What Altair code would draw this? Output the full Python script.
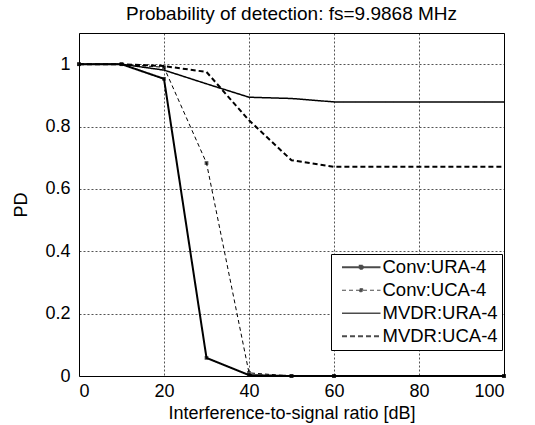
import altair as alt
import pandas as pd

isr_db = [0, 10, 20, 30, 40, 50, 60, 100]
conv_ura = [1.0, 1.0, 0.953, 0.058, 0.003, 0.0, 0.0, 0.0]
conv_uca = [1.0, 1.0, 0.99, 0.683, 0.01, 0.0, 0.0, 0.0]
mvdr_ura = [1.0, 1.0, 0.981, 0.937, 0.894, 0.89, 0.879, 0.879]
mvdr_uca = [1.0, 1.0, 0.994, 0.975, 0.82, 0.692, 0.671, 0.671]
series_names = ["Conv:URA-4", "Conv:UCA-4", "MVDR:URA-4", "MVDR:UCA-4"]
x_ticks = [0, 20, 40, 60, 80, 100]
y_ticks = [0, 0.2, 0.4, 0.6, 0.8, 1.0]

rows = []
for name, vals in zip(series_names, [conv_ura, conv_uca, mvdr_ura, mvdr_uca]):
    for x, y in zip(isr_db, vals):
        rows.append({"series": name, "isr": x, "pd": y})
df = pd.DataFrame(rows)

FONT = "Liberation Sans"
dash_scale = alt.Scale(type="ordinal", domain=series_names,
                       range=[[1, 0], [4, 3], [1, 0], [5, 3]])
width_scale = alt.Scale(type="ordinal", domain=series_names, range=[2, 1, 1.5, 2])
path_marker = "M-3.85,0H3.85M-0.3,-0.3H0.3V0.3H-0.3Z"
path_plain = "M-3.85,0H3.85"
shape_scale = alt.Scale(domain=series_names,
                        range=[path_marker, path_marker, path_plain, path_plain])
black_scale = alt.Scale(domain=series_names, range=["black"] * 4)

legend = alt.Legend(
    title=None, orient="none", legendX=252, legendY=221,
    strokeColor="black", fillColor="white", padding=4,
    labelFont=FONT, labelFontSize=18.5, labelColor="black",
    labelOffset=12, symbolOffset=17, rowPadding=4, symbolSize=100,
    symbolStrokeColor="black", symbolFillColor="black",
)

x_enc = alt.X("isr:Q", scale=alt.Scale(domain=[0, 100], nice=False),
              axis=alt.Axis(values=x_ticks, title="Interference-to-signal ratio [dB]",
                            labelPadding=6, titlePadding=4))
y_enc = alt.Y("pd:Q", scale=alt.Scale(domain=[0, 1.1], nice=False),
              axis=alt.Axis(values=y_ticks, format="~g", title="PD",
                            labelPadding=9, titlePadding=14))

lines = alt.Chart(df).mark_line(color="black").encode(
    x=x_enc, y=y_enc,
    strokeDash=alt.StrokeDash("series:N", scale=dash_scale, legend=legend),
    strokeWidth=alt.StrokeWidth("series:N", scale=width_scale, legend=legend),
    detail="series:N",
)

markers = alt.Chart(df).mark_point(shape="square", filled=True, color="black", size=14).encode(
    x=x_enc, y=y_enc,
).transform_filter(alt.FieldOneOfPredicate(field="series", oneOf=["Conv:URA-4", "Conv:UCA-4"]))

legend_layer = alt.Chart(df).mark_point(filled=True).encode(
    x=x_enc, y=y_enc,
    shape=alt.Shape("series:N", scale=shape_scale, legend=legend),
    strokeDash=alt.StrokeDash("series:N", scale=dash_scale, legend=legend),
    strokeWidth=alt.StrokeWidth("series:N", scale=width_scale, legend=legend),
    stroke=alt.Stroke("series:N", scale=black_scale, legend=legend),
    fill=alt.Fill("series:N", scale=black_scale, legend=legend),
).transform_filter("false")

chart = alt.layer(lines, markers, legend_layer).properties(
    width=425, height=343,
    title=alt.TitleParams("Probability of detection: fs=9.9868 MHz", font=FONT,
                          fontSize=19, fontWeight="normal", color="black", offset=9),
    autosize=alt.AutoSizeParams(type="none"),
    padding={"left": 79, "top": 33, "right": 31, "bottom": 49},
).configure_view(stroke="black", strokeWidth=1).configure_axis(
    grid=True, gridColor="black", gridDash=[2, 2], gridWidth=0.8, gridOpacity=0.85,
    domain=False, ticks=False,
    labelFont=FONT, labelFontSize=18, labelColor="black",
    titleFont=FONT, titleFontSize=18, titleColor="black", titleFontWeight="normal",
)

chart.save("out.html", embed_options={"renderer": "svg", "actions": False})
